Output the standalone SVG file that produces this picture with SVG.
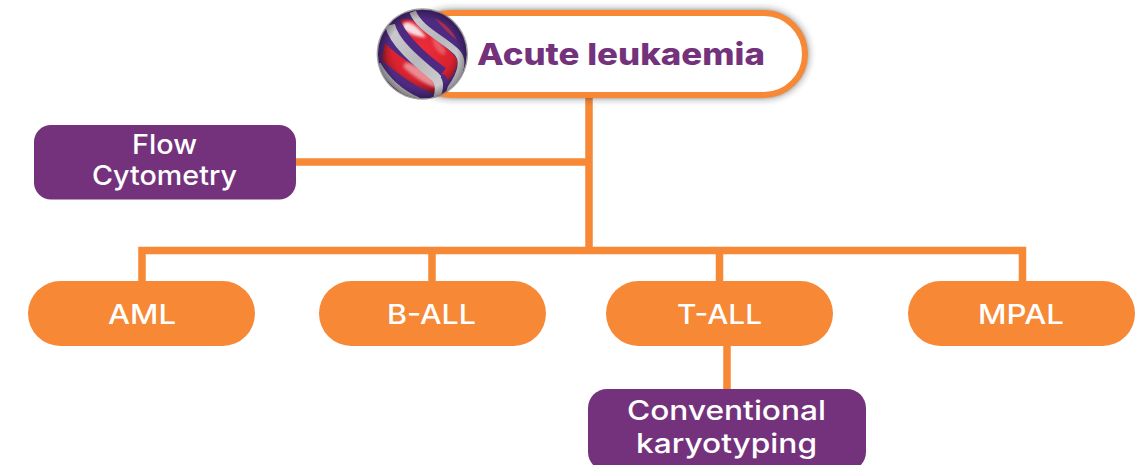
<svg xmlns="http://www.w3.org/2000/svg" width="1144" height="465" viewBox="0 0 1144 465">
<style>
.t{font-family:"Inter","Open Sans","Liberation Sans",sans-serif;font-weight:500;fill:#fff;font-size:27px}
.o{fill:#f68836}
.p{fill:#75327c}
.c{stroke:#f68836;stroke-width:7.500;fill:none}
.b{fill:none;stroke:url(#sil);stroke-linecap:butt}
</style>
<defs>
<filter id="sh" x="-10%" y="-30%" width="120%" height="160%"><feGaussianBlur stdDeviation="4.500"/></filter>
<filter id="soft" x="-20%" y="-20%" width="140%" height="140%"><feGaussianBlur stdDeviation="5"/></filter>
<filter id="soft2" x="-20%" y="-20%" width="140%" height="140%"><feGaussianBlur stdDeviation="1.500"/></filter>
<radialGradient id="red" gradientUnits="userSpaceOnUse" cx="157" cy="150" r="130"><stop offset="0" stop-color="#ee2c3a"/><stop offset="0.7" stop-color="#d9222f"/><stop offset="1" stop-color="#8c1722"/></radialGradient>
<linearGradient id="sil" gradientUnits="userSpaceOnUse" x1="30" y1="40" x2="280" y2="290"><stop offset="0" stop-color="#d5d5d8"/><stop offset="0.5" stop-color="#b8b8bc"/><stop offset="1" stop-color="#dcdcde"/></linearGradient>
<radialGradient id="edge" gradientUnits="userSpaceOnUse" cx="157" cy="162" r="134"><stop offset="0.78" stop-color="#000" stop-opacity="0"/><stop offset="1" stop-color="#000" stop-opacity="0.35"/></radialGradient>
<clipPath id="ball"><circle cx="157" cy="162" r="133"/></clipPath>
</defs>
<g id="connectors">
<path class="c" d="M589 95V250"/>
<path class="c" d="M296 162H589"/>
<path class="c" d="M142 281V250.500H1022.500V281"/>
<path class="c" d="M432 250V281"/>
<path class="c" d="M719.500 250V281"/>
<path class="c" d="M727 346V389"/>
</g>
<g id="node-root">
<rect x="408" y="11" width="399" height="86" rx="43" fill="#222" opacity="0.75" filter="url(#sh)"/>
<rect x="410" y="13" width="395" height="82" rx="41" fill="#fff" stroke="#f68836" stroke-width="6"/>
<text x="477" y="65" style="font-family:'Inter','Open Sans','Liberation Sans',sans-serif;font-weight:800;font-size:30px;fill:#75327c" textLength="288" lengthAdjust="spacingAndGlyphs">Acute leukaemia</text>
<g transform="translate(370 0) scale(0.3333)">
<circle cx="157" cy="162" r="137" fill="#777" opacity="0.7"/>
<g clip-path="url(#ball)">
<rect x="20" y="25" width="275" height="275" fill="#4f2a82"/>
<path d="M90 60C120 48 150 70 175 100C205 130 245 150 262 180C262 205 250 225 235 240C195 200 130 150 90 105Z" fill="url(#red)"/>
<path d="M45 130C85 170 150 210 205 245L205 285C150 270 85 225 35 180Z" fill="url(#red)"/>
<path d="M100 68C125 60 150 85 168 112C140 112 115 100 98 88Z" fill="#f8dfe2" filter="url(#soft)"/>
<path d="M105 188C140 190 190 225 200 262C165 255 125 225 100 200Z" fill="#ea8a92" filter="url(#soft)"/>
<path d="M185 110C215 130 230 145 225 165C200 160 190 135 185 110Z" fill="#f08088" opacity="0.6" filter="url(#soft)"/>
<path d="M195 55C225 70 250 95 260 120C235 100 215 80 195 55Z" fill="#a83050" filter="url(#soft2)"/>
<path d="M20 215C55 255 100 285 155 300L60 300L20 260Z" fill="#8a1a24"/>
<path d="M75 55C90 105 150 165 220 215" fill="none" stroke="#4f2a82" stroke-width="26"/>
<path d="M60 75C72 128 135 180 195 230C212 245 212 270 205 295" class="b" stroke-width="30"/>
<path d="M128 35C150 90 225 118 262 158C288 188 265 240 228 282" class="b" stroke-width="20"/>
<path d="M24 192C52 240 95 278 145 300" class="b" stroke-width="16"/>
<path d="M222 222C238 240 238 262 222 286L210 292C222 270 222 245 212 232Z" fill="#4f2a82"/>
</g>
<circle cx="157" cy="162" r="133" fill="url(#edge)"/>
</g>
</g>
<g id="node-flow">
<rect class="p" x="34" y="125" width="262" height="74.500" rx="17"/>
<text class="t" x="132" y="154" textLength="65" lengthAdjust="spacingAndGlyphs">Flow</text>
<text class="t" x="92" y="185" textLength="145" lengthAdjust="spacingAndGlyphs">Cytometry</text>
</g>
<g id="node-aml">
<rect class="o" x="28" y="281" width="227" height="65" rx="32.500"/>
<text class="t" x="108" y="324" textLength="68" lengthAdjust="spacingAndGlyphs">AML</text>
</g>
<g id="node-ball">
<rect class="o" x="319" y="281" width="227" height="65" rx="32.500"/>
<text class="t" x="387" y="324" textLength="89" lengthAdjust="spacingAndGlyphs">B-ALL</text>
</g>
<g id="node-tall">
<rect class="o" x="606" y="281" width="227" height="65" rx="32.500"/>
<text class="t" x="677" y="324" textLength="85" lengthAdjust="spacingAndGlyphs">T-ALL</text>
</g>
<g id="node-mpal">
<rect class="o" x="908" y="281" width="227" height="65" rx="32.500"/>
<text class="t" x="978" y="324" textLength="86" lengthAdjust="spacingAndGlyphs">MPAL</text>
</g>
<g id="node-karyotyping">
<rect class="p" x="588" y="389" width="278" height="82" rx="19"/>
<text class="t" x="627" y="420" textLength="199" lengthAdjust="spacingAndGlyphs">Conventional</text>
<text class="t" x="636" y="453" textLength="181" lengthAdjust="spacingAndGlyphs">karyotyping</text>
</g>
</svg>
